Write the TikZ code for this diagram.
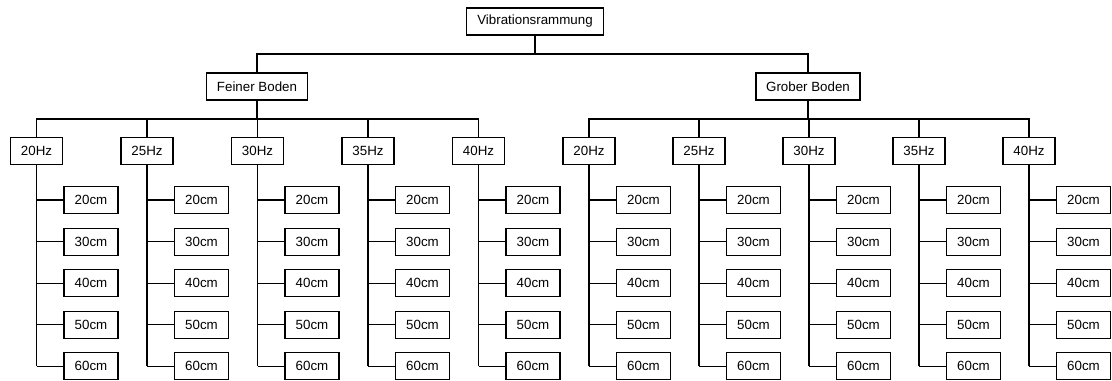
\documentclass[tikz,border=0pt]{standalone}
\usepackage{fontspec}
\setmainfont{Liberation Sans}
\begin{document}
\begin{tikzpicture}[x=0.75pt,y=-0.75pt,
  box/.style={draw,line width=0.8pt,minimum height=20.25pt,inner sep=0pt,font=\fontsize{10}{12}\selectfont},
  hzbox/.style={box,minimum width=39pt},
  cmbox/.style={box,minimum width=40.5pt},
  link/.style={line width=0.8pt},
  stem/.style={line width=1.1pt}]
\useasboundingbox (0,0) rectangle (1112,381);
% root and soil types
\node[box,minimum width=102.75pt] (root) at (535,21.5) {Vibrationsrammung};
\node[box,minimum width=75.75pt] (fein) at (257,86.5) {Feiner Boden};
\node[box,minimum width=78pt] (grob) at (808,86.5) {Grober Boden};
\coordinate (rootbus) at (535,54);
\draw[link] (root) -- (rootbus) -| (fein.north);
\draw[link] (rootbus) -| (grob.north);
% frequencies and depths
\coordinate (feinbus) at (257,119);
\coordinate (grobbus) at (808,119);
\draw[link] (fein) -- (feinbus);
\draw[link] (grob) -- (grobbus);
\foreach \side/\xs/\dx in {fein/36.5/110.5, grob/589/110} {
  \foreach \hz [count=\i] in {20,25,30,35,40} {
    \pgfmathsetmacro\xh{\xs+\dx*(\i-1)}
    \node[hzbox] (\side\i) at (\xh,151) {\hz Hz};
    \draw[link] (\side bus) -| (\side\i.north);
    \foreach \d [count=\j] in {20,30,40,50,60} {
      \node[cmbox] (\side\i-\j) at ({\xh+54.5},{200+41.6*(\j-1)}) {\d cm};
      \draw[link] (\side\i.south |- \side\i-\j.west) -- (\side\i-\j.west);
    }
    \draw[stem] (\side\i.south) -- (\side\i.south |- \side\i-5.west);
  }
}
\end{tikzpicture}
\end{document}
